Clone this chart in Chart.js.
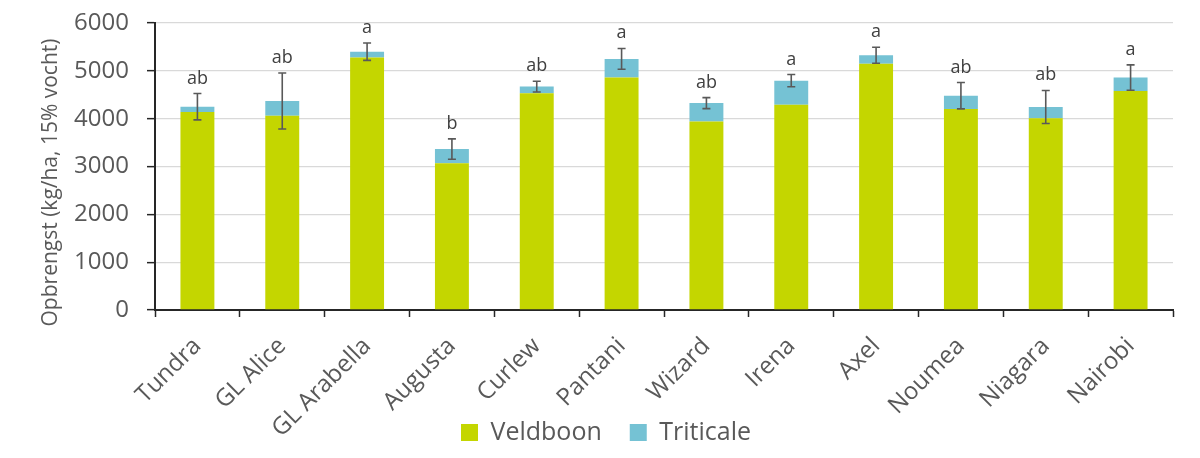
<!DOCTYPE html>
<html>
<head>
<meta charset="utf-8">
<script src="https://cdn.jsdelivr.net/npm/chart.js@4"></script>
<style>
html,body{margin:0;padding:0;background:#fff;}
#wrap{width:1200px;height:458px;}
</style>
</head>
<body>
<div id="wrap"><canvas id="c" width="1200" height="458"></canvas></div>
<script>
const categories = ["Tundra","GL Alice","GL Arabella","Augusta","Curlew","Pantani","Wizard","Irena","Axel","Noumea","Niagara","Nairobi"];
const veldboon  = [4140, 4060, 5280, 3070, 4530, 4860, 3940, 4290, 5150, 4200, 4010, 4580];
const triticale = [ 110,  310,  120,  295,  140,  390,  385,  505,  175,  280,  235,  280];
const errors    = [ 275,  585,  182,  212,  112,  217,  115,  128,  168,  275,  345,  265];
const letters   = ["ab","ab","a","b","ab","a","ab","a","a","ab","ab","a"];
const yTicks    = [0, 1000, 2000, 3000, 4000, 5000, 6000];
const yTitle    = 'Opbrengst (kg/ha, 15% vocht)';

const FONT = "'Open Sans', 'DejaVu Sans', sans-serif";
const TXT = '#595959';
const AX = '#262626';

const errorPlugin = {
  id: 'errorBars',
  afterLayout(chart) {
    // let rotated category labels extend below the axis box (no clipping)
    chart.scales.x.bottom = chart.height;
    const lg = chart.legend;
    if (lg) { const d = -3; lg.top += d; lg.bottom += d; }
  },
  afterDatasetsDraw(chart) {
    const ctx = chart.ctx;
    const xs = chart.scales.x, ys = chart.scales.y;
    ctx.save();
    ctx.strokeStyle = '#595959';
    ctx.lineWidth = 1.6;
    ctx.fillStyle = '#404040';
    ctx.font = "18px " + FONT;
    ctx.textAlign = 'center';
    ctx.textBaseline = 'alphabetic';
    categories.forEach((c, i) => {
      const total = veldboon[i] + triticale[i];
      const x = xs.getPixelForValue(i);
      const yt = ys.getPixelForValue(total + errors[i]);
      const yb = ys.getPixelForValue(total - errors[i]);
      ctx.beginPath();
      ctx.moveTo(x, yt); ctx.lineTo(x, yb);
      ctx.moveTo(x - 4, yt); ctx.lineTo(x + 4, yt);
      ctx.moveTo(x - 4, yb); ctx.lineTo(x + 4, yb);
      ctx.stroke();
      ctx.fillText(letters[i], x, yt - 10);
    });
    ctx.restore();
  },
  afterDraw(chart) {
    const ctx = chart.ctx;
    const a = chart.chartArea;
    ctx.save();
    ctx.fillStyle = TXT;
    ctx.font = "21px " + FONT;
    ctx.textAlign = 'center';
    ctx.textBaseline = 'middle';
    ctx.translate(51, (a.top + a.bottom) / 2 + 16);
    ctx.rotate(-Math.PI / 2);
    ctx.fillText(yTitle, 0, 0);
    ctx.restore();
  }
};

new Chart(document.getElementById('c'), {
  type: 'bar',
  data: {
    labels: categories,
    datasets: [
      { label: 'Veldboon', data: veldboon, backgroundColor: '#c4d600', borderWidth: 0,
        barPercentage: 0.4, categoryPercentage: 1.0 },
      { label: 'Triticale', data: triticale, backgroundColor: '#75c2d4', borderWidth: 0,
        barPercentage: 0.4, categoryPercentage: 1.0 }
    ]
  },
  options: {
    responsive: false,
    animation: false,
    devicePixelRatio: 1,
    layout: { padding: { left: 39, right: 27, top: 23, bottom: 0 } },
    plugins: {
      legend: {
        position: 'bottom',
        labels: {
          boxWidth: 17, boxHeight: 17, padding: 28,
          color: TXT, font: { family: FONT, size: 25 }
        }
      },
      tooltip: { enabled: false }
    },
    scales: {
      x: {
        stacked: true,
        grid: { display: true, drawOnChartArea: false, drawTicks: true, tickLength: 7,
                tickColor: AX, tickWidth: 1.5, offset: true },
        border: { display: true, color: AX, width: 2 },
        ticks: { color: TXT, font: { family: FONT, size: 24 }, minRotation: 45, maxRotation: 45, padding: 15,
                 autoSkip: false },
        afterFit(s) { s.height = 85; }
      },
      y: {
        stacked: true,
        min: 0, max: 6000,
        afterBuildTicks(s) { s.ticks = yTicks.map(v => ({ value: v })); },
        grid: { color: '#d9d9d9', lineWidth: 1.3, tickColor: AX, tickLength: 8, tickWidth: 1.5 },
        border: { display: true, color: AX, width: 2 },
        ticks: { color: TXT, font: { family: FONT, size: 24 }, padding: 18, callback: v => String(v) },
        title: { display: false },
        afterFit(s) { s.width = 116; s.paddingTop = 0; s.paddingBottom = 0; }
      }
    }
  },
  plugins: [errorPlugin]
});
</script>
</body>
</html>
